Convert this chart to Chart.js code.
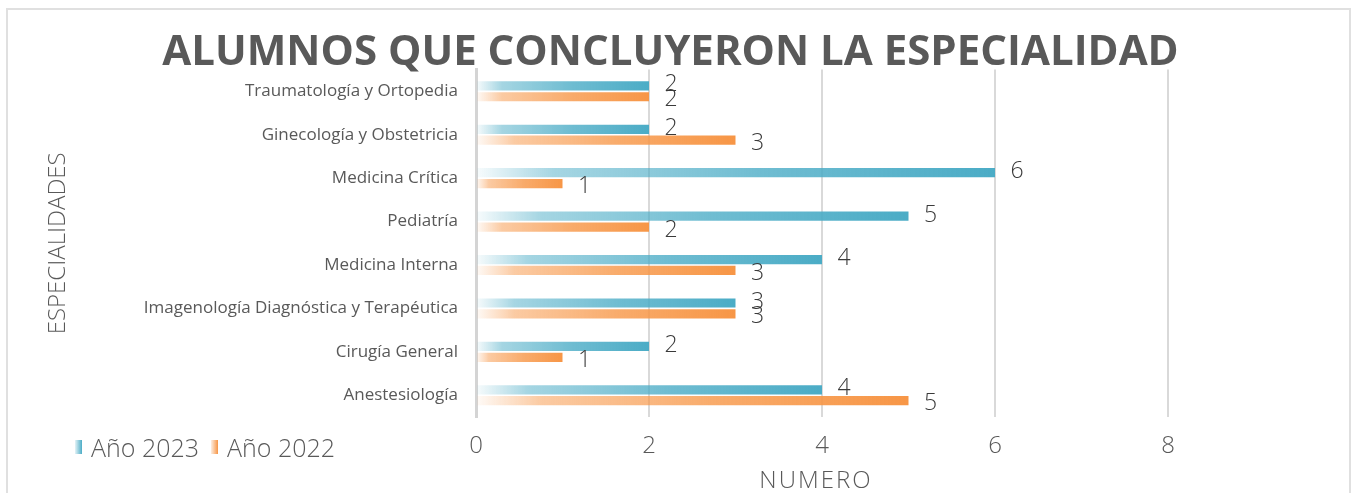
<!DOCTYPE html>
<html>
<head>
<meta charset="utf-8">
<script src="https://cdn.jsdelivr.net/npm/chart.js@4/dist/chart.umd.min.js"></script>
<style>
  body { margin: 0; background: #fff; overflow: hidden; }
  #wrap { position: relative; width: 1353px; height: 493px; }
  #frame { position: absolute; left: 6px; top: 8px; width: 1345px; height: 500px; border: 2px solid #e0e0e0; box-sizing: border-box; }
  #legend { position: absolute; left: 75px; top: 430px; display: flex; align-items: center; font-family: "Open Sans"; font-weight: 300; font-size: 25px; color: #595959; }
  #legend .item { display: flex; align-items: center; margin-right: 12px; }
  #legend .sw { width: 7px; height: 14px; margin-right: 9px; }
</style>
</head>
<body>
<div id="wrap">
  <div id="frame"></div>
  <canvas id="chart"></canvas>
  <div id="legend"></div>
</div>
<script>
// datos del gráfico
const categories = ['Traumatología y Ortopedia', 'Ginecología y Obstetricia', 'Medicina Crítica', 'Pediatría',
    'Medicina Interna', 'Imagenología Diagnóstica y Terapéutica', 'Cirugía General', 'Anestesiología'];
const seriesLabels = ['Año 2023', 'Año 2022'];
const values2023 = [2, 2, 6, 5, 4, 3, 2, 4];
const values2022 = [2, 3, 1, 2, 3, 3, 1, 5];
const xTicks = [0, 2, 4, 6, 8];
const seriesColors = [[75, 172, 198], [247, 150, 70]];

function rgba(c, a) {
    return `rgba(${c[0]}, ${c[1]}, ${c[2]}, ${a})`;
}

// degradado horizontal desde la base de la barra hasta su extremo
function barGradient(color) {
    return function (ctx) {
        const chart = ctx.chart;
        if (!chart.chartArea || ctx.raw === undefined) return rgba(color, 1);
        const x0 = chart.scales.x.getPixelForValue(0);
        const x1 = chart.scales.x.getPixelForValue(ctx.raw);
        if (x1 - x0 < 1) return rgba(color, 1);
        const g = chart.ctx.createLinearGradient(x0, 0, x1, 0);
        g.addColorStop(0, rgba(color, 0.04));
        g.addColorStop(0.15, rgba(color, 0.5));
        g.addColorStop(0.55, rgba(color, 0.8));
        g.addColorStop(1, rgba(color, 1));
        return g;
    };
}

// etiquetas de valor a la derecha de cada barra
const valueLabels = {
    id: 'valueLabels',
    afterDatasetsDraw(chart) {
        const ctx = chart.ctx;
        ctx.save();
        ctx.font = '300 23px "Open Sans"';
        ctx.fillStyle = '#3a3a3a';
        ctx.textAlign = 'center';
        ctx.textBaseline = 'middle';
        chart.data.datasets.forEach((ds, i) => {
            chart.getDatasetMeta(i).data.forEach((bar, j) => {
                ctx.fillText(ds.data[j], bar.x + 22, bar.y + (i === 1 ? 3 : -1));
            });
        });
        ctx.restore();
    }
};

// título del eje X (desplazado hacia la izquierda como en el original)
const xTitle = {
    id: 'xTitle',
    afterDraw(chart) {
        const a = chart.chartArea;
        const ctx = chart.ctx;
        ctx.save();
        ctx.font = '300 24px "Open Sans"';
        ctx.letterSpacing = '2px';
        ctx.fillStyle = '#595959';
        ctx.textAlign = 'center';
        ctx.textBaseline = 'middle';
        ctx.fillText('NUMERO', a.left + (a.right - a.left) * 0.393, chart.height - 12);
        ctx.restore();
    }
};

const datasets = [
    { label: seriesLabels[0], data: values2023, backgroundColor: barGradient(seriesColors[0]) },
    { label: seriesLabels[1], data: values2022, backgroundColor: barGradient(seriesColors[1]) }
];

new Chart(document.getElementById('chart'), {
    type: 'bar',
    data: { labels: categories, datasets: datasets },
    plugins: [valueLabels, xTitle],
    options: {
        indexAxis: 'y',
        responsive: true,
        maintainAspectRatio: false,
        animation: false,
        categoryPercentage: 0.5,
        barPercentage: 0.85,
        layout: { padding: { left: 0, right: 12, top: 0, bottom: 0 } },
        plugins: {
            legend: { display: false },
            tooltip: { enabled: false },
            title: {
                display: true,
                text: 'ALUMNOS QUE CONCLUYERON LA ESPECIALIDAD',
                color: '#595959',
                font: { family: 'Open Sans', size: 42, weight: 'bold', lineHeight: 0.8 },
                padding: { top: 36, bottom: 0 }
            }
        },
        scales: {
            x: {
                min: 0,
                max: 10,
                ticks: {
                    stepSize: 2,
                    color: '#595959',
                    padding: 15,
                    font: { family: 'Open Sans', size: 24, weight: 300 }
                },
                afterBuildTicks(scale) {
                    scale.ticks = xTicks.map(v => ({ value: v }));
                },
                afterFit(scale) { scale.height = 76; },
                grid: { color: '#d9d9d9', lineWidth: 2, drawTicks: false },
                border: { display: false }
            },
            y: {
                ticks: {
                    color: '#595959',
                    padding: 18,
                    font: { family: 'Open Sans', size: 17 }
                },
                afterFit(scale) { scale.width = 476; },
                grid: { display: false, drawTicks: false },
                border: { display: true, color: '#d4d4d4', width: 3 },
                title: {
                    display: true,
                    text: 'ESPECIALIDADES',
                    color: '#595959',
                    font: { family: 'Open Sans', size: 24, weight: 300 },
                    padding: { top: 44, bottom: 0 }
                }
            }
        }
    }
});

// leyenda HTML (comparte la fila de las etiquetas del eje X)
const legendEl = document.getElementById('legend');
seriesLabels.forEach((name, i) => {
    const item = document.createElement('div');
    item.className = 'item';
    const sw = document.createElement('span');
    sw.className = 'sw';
    sw.style.background = `linear-gradient(to right, ${rgba(seriesColors[i], 0.15)}, ${rgba(seriesColors[i], 1)})`;
    const txt = document.createElement('span');
    txt.textContent = name;
    item.appendChild(sw);
    item.appendChild(txt);
    legendEl.appendChild(item);
});
</script>
</body>
</html>
